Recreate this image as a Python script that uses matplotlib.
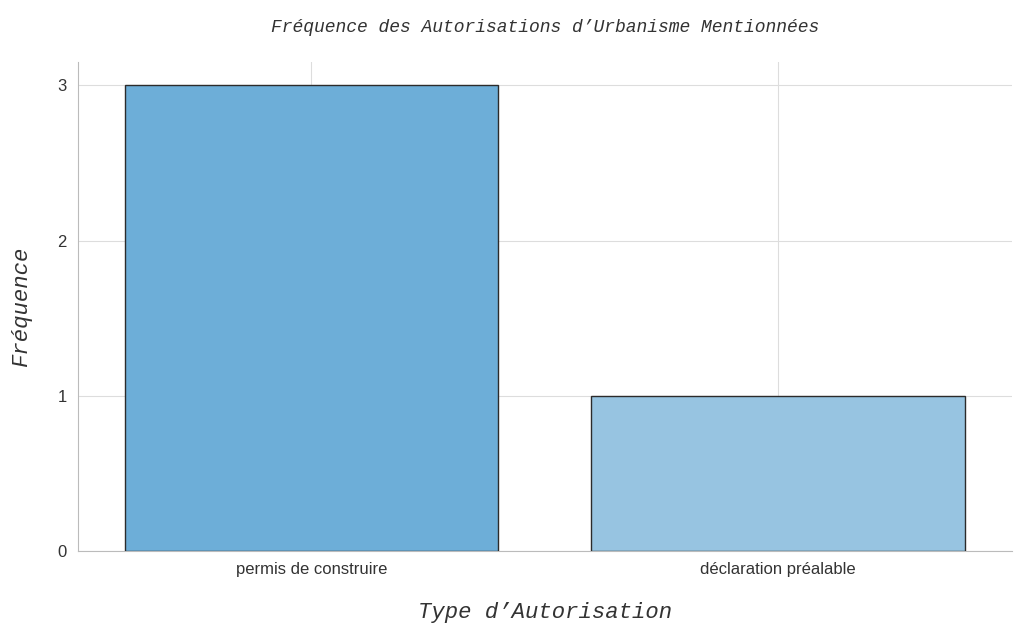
import matplotlib
matplotlib.use("Agg")
import matplotlib.pyplot as plt

categories = ["permis de construire", "déclaration préalable"]
values = [3, 1]
colors = ["#6daed8", "#97c4e1"]

fig = plt.figure(figsize=(10.24, 6.34), dpi=100)
ax = fig.add_axes([0.076, 0.131, 0.912, 0.771])
ax.bar(categories, values, width=0.8, color=colors, edgecolor="#2b2b2b", linewidth=1.0, zorder=3)
ax.set_ylim(0, 3.15)
ax.set_xlim(-0.5, 1.5)
ax.set_yticks([0, 1, 2, 3])
ax.grid(True, color="#dddddd", linewidth=0.8, zorder=0)
for s in ["top", "right"]:
    ax.spines[s].set_visible(False)
for s in ["left", "bottom"]:
    ax.spines[s].set_color("#bbbbbb")
ax.tick_params(length=0, labelsize=12, colors="#333333", pad=8)
for t in ax.get_xticklabels() + ax.get_yticklabels():
    t.set_family("Liberation Sans")
mono = dict(family="Liberation Mono", style="italic", color="#333333")
ax.set_title("Fréquence des Autorisations d’Urbanisme Mentionnées", fontsize=13, pad=22, **mono)
ax.set_xlabel("Type d’Autorisation", fontsize=16, labelpad=18, **mono)
ax.set_ylabel("Fréquence", fontsize=16, labelpad=18, **mono)
fig.savefig("out.png", dpi=100)
